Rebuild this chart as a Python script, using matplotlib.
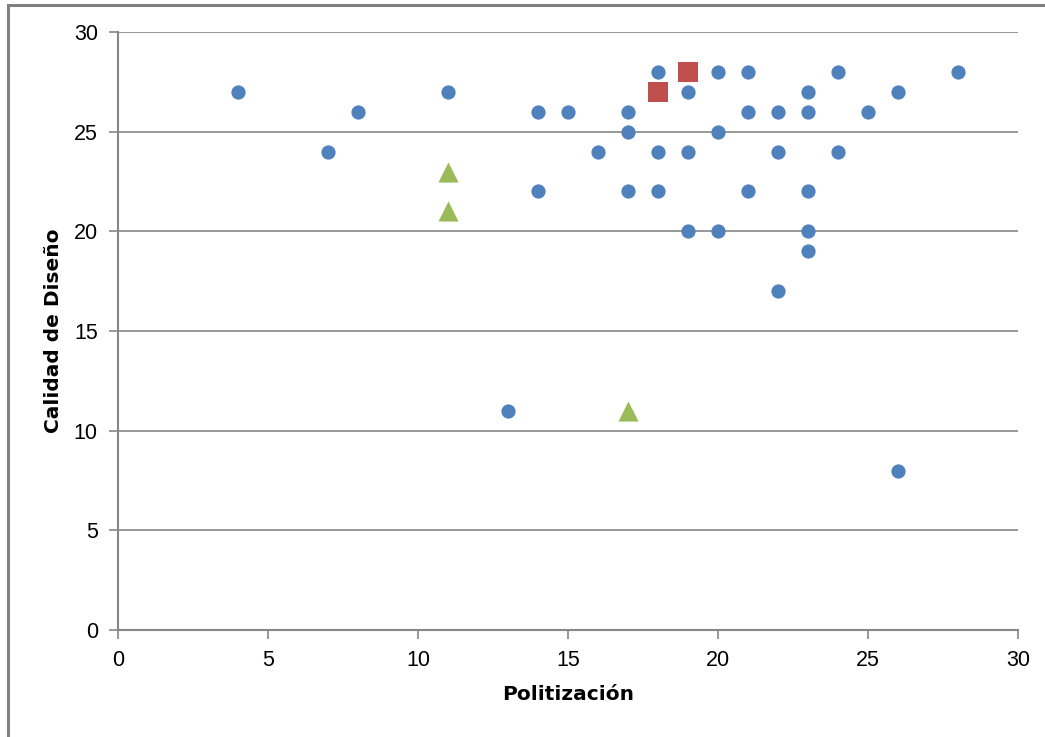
import matplotlib
matplotlib.use('Agg')
from matplotlib import pyplot as plt
from matplotlib.patches import Rectangle

# blue circles
blue_x = [4, 7, 8, 11, 13, 14, 14, 15, 16, 17, 17, 17, 18, 18, 18, 19, 19, 19,
          20, 20, 20, 21, 21, 21, 22, 22, 22, 23, 23, 23, 23, 23, 24, 24, 25, 26, 26, 28]
blue_y = [27, 24, 26, 27, 11, 26, 22, 26, 24, 26, 25, 22, 28, 24, 22, 27, 24, 20,
          28, 25, 20, 28, 26, 22, 26, 24, 17, 27, 26, 22, 20, 19, 28, 24, 26, 27, 8, 28]

# red squares
red_x = [18, 19]
red_y = [27, 28]

# green triangles
green_x = [11, 11, 17]
green_y = [23, 21, 11]

x_ticks = [0, 5, 10, 15, 20, 25, 30]
y_ticks = [0, 5, 10, 15, 20, 25, 30]

plt.rcParams['font.family'] = ['Liberation Sans', 'DejaVu Sans']

fig = plt.figure(figsize=(10.45, 7.37), dpi=100)
ax = fig.add_axes([118 / 1045, 107 / 737, 900 / 1045, 598 / 737])

# frame around the chart area (right and bottom edges fall outside the image)
fig.patches.append(Rectangle((8 / 1045, -0.1), 1.2, 732 / 737 + 0.1,
                             transform=fig.transFigure, fill=False,
                             edgecolor='#808080', linewidth=2.2))

grid_color = '#868686'
ax.scatter(blue_x, blue_y, s=105, marker='o', color='#4F81BD', zorder=3, linewidths=0)
ax.scatter(red_x, red_y, s=200, marker='s', color='#C0504D', zorder=3, linewidths=0)
ax.scatter(green_x, green_y, s=210, marker='^', color='#9BBB59', zorder=3, linewidths=0)

ax.set_xlim(0, 30)
ax.set_ylim(0, 30)
ax.set_xticks(x_ticks)
ax.set_yticks(y_ticks)
ax.yaxis.grid(True, color=grid_color, linewidth=1.2)
ax.set_axisbelow(True)

for side in ('top', 'right'):
    ax.spines[side].set_visible(False)
for side in ('left', 'bottom'):
    ax.spines[side].set_color(grid_color)
    ax.spines[side].set_linewidth(1.5)

ax.tick_params(axis='both', direction='out', length=6.5, width=1.2, color=grid_color,
               labelsize=15.5, labelcolor='black')
ax.tick_params(axis='y', pad=8)
ax.tick_params(axis='x', pad=8)

label_font = {'family': 'DejaVu Sans', 'size': 14.5, 'weight': 'bold'}
ax.set_xlabel('Politización', fontdict=label_font, labelpad=10)
ax.set_ylabel('Calidad de Diseño', fontdict=label_font, labelpad=8)

fig.savefig('out.png', dpi=100)
